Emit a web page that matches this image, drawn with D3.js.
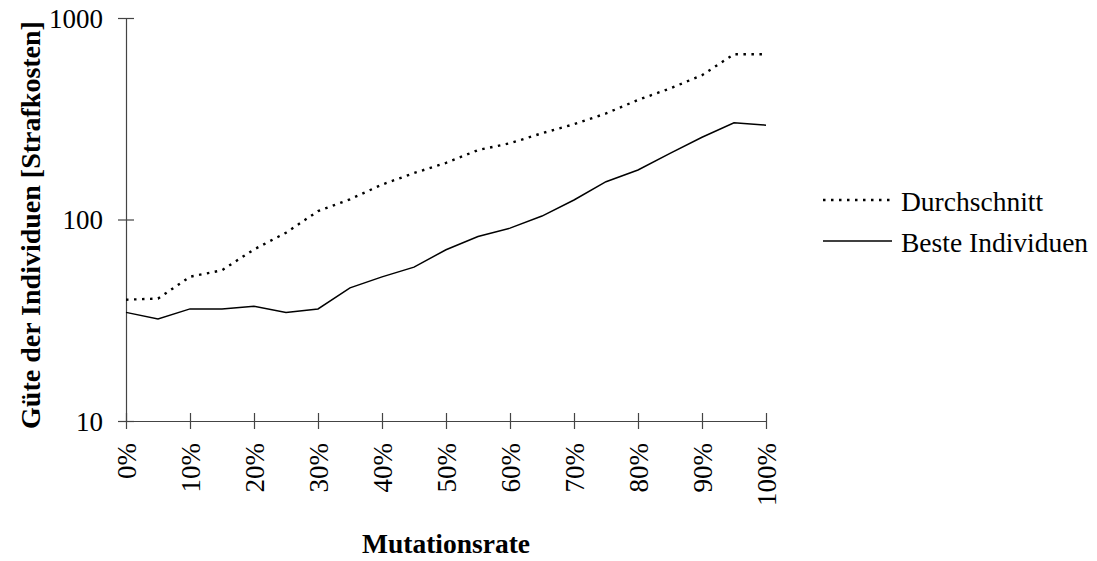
<!DOCTYPE html>
<meta charset="utf-8">
<head>
<script src="https://d3js.org/d3.v7.min.js"></script>
<style>
  body { margin: 0; background: #fff; }
  svg text { font-family: "Liberation Serif", "Times New Roman", serif; fill: #000; }
</style>
</head>
<body>
<svg id="chart" width="1097" height="561"></svg>
<script>

// mutation rate in percent (every 5%)
var rates = [0, 5, 10, 15, 20, 25, 30, 35, 40, 45, 50, 55, 60, 65, 70, 75, 80, 85, 90, 95, 100];
var durchschnitt = [40, 40.5, 52, 56, 71, 86, 110, 126, 149, 170, 191, 221, 239, 268, 297, 336, 392, 447, 520, 661, 661];
var besteIndividuen = [34.6, 32.1, 36, 36, 37.1, 34.6, 36, 45.8, 51.9, 58, 70.8, 82.4, 90.6, 104, 125, 154, 176, 213, 256, 302, 294];
var xTicks = [0, 10, 20, 30, 40, 50, 60, 70, 80, 90, 100];
var yTicks = [10, 100, 1000];
var seriesNames = ["Durchschnitt", "Beste Individuen"];

function drawChart() {
	var svg = d3.select("#chart");

	var left = 126, right = 766, top = 18, bottom = 421;

	var x = d3.scaleLinear().domain([0, 100]).range([left, right]);
	var y = d3.scaleLog().domain([10, 1000]).range([bottom, top]);

	// y axis
	var gy = svg.append("g")
		.attr("transform", "translate(" + left + ",0)")
		.call(d3.axisLeft(y).tickValues(yTicks).tickFormat(d3.format("d")).tickSizeOuter(0));
	gy.selectAll(".tick line").attr("x1", -8).attr("x2", 8);
	gy.selectAll(".tick text").attr("x", -23).attr("dy", "0.35em").style("font-size", "27px");

	// x axis
	var gx = svg.append("g")
		.attr("transform", "translate(0," + bottom + ")")
		.call(d3.axisBottom(x).tickValues(xTicks).tickFormat(function(d) { return d + "%"; }).tickSizeOuter(0));
	gx.selectAll(".tick line").attr("y1", -8).attr("y2", 8);
	gx.selectAll(".tick text")
		.attr("transform", "rotate(-90)")
		.attr("text-anchor", "end")
		.attr("x", -22)
		.attr("y", 9)
		.attr("dy", 0)
		.style("font-size", "27px");

	svg.selectAll(".domain, .tick line").attr("stroke", "#444").attr("stroke-width", 1.2);

	// lines
	var line = d3.line()
		.x(function(d, i) { return x(rates[i]); })
		.y(function(d) { return y(d); });

	svg.append("path")
		.datum(durchschnitt)
		.attr("fill", "none")
		.attr("stroke", "#000")
		.attr("stroke-width", 2.4)
		.attr("stroke-dasharray", "2.5,5.5")
		.attr("d", line);

	svg.append("path")
		.datum(besteIndividuen)
		.attr("fill", "none")
		.attr("stroke", "#000")
		.attr("stroke-width", 1.5)
		.attr("d", line);

	// axis titles
	svg.append("text")
		.attr("x", (left + right) / 2)
		.attr("y", 553)
		.attr("text-anchor", "middle")
		.style("font-size", "27.5px")
		.style("font-weight", "bold")
		.text("Mutationsrate");

	svg.append("text")
		.attr("transform", "translate(40," + 225 + ") rotate(-90)")
		.attr("text-anchor", "middle")
		.style("font-size", "28px")
		.style("font-weight", "bold")
		.text("Güte der Individuen [Strafkosten]");

	// legend
	var legend = svg.append("g").attr("transform", "translate(823,200)");
	var styles = [{ w: 2.4, dash: "2.5,5.5" }, { w: 1.5, dash: null }];
	seriesNames.forEach(function(name, i) {
		var g = legend.append("g").attr("transform", "translate(0," + (i * 41) + ")");
		g.append("line")
			.attr("x1", 0).attr("x2", 69)
			.attr("stroke", "#000")
			.attr("stroke-width", styles[i].w)
			.attr("stroke-dasharray", styles[i].dash);
		g.append("text")
			.attr("x", 78)
			.attr("y", 11)
			.style("font-size", "27.5px")
			.text(name);
	});
}

drawChart();
</script>
</body>
